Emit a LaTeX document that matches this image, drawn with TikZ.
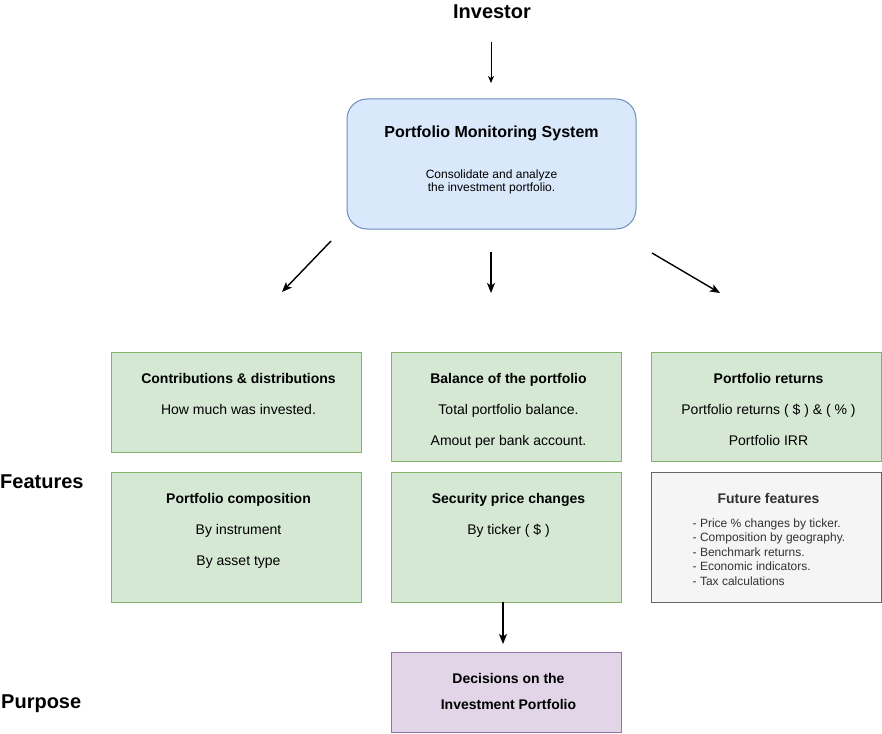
\documentclass[tikz,border=0pt]{standalone}
\usepackage{fontspec}
\setmainfont{Liberation Sans}
\usetikzlibrary{arrows.meta,positioning}
\definecolor{pmsblue}{HTML}{DAE8FC}
\definecolor{pmsline}{HTML}{6C8EBF}
\definecolor{featgreen}{HTML}{D5E8D4}
\definecolor{featline}{HTML}{82B366}
\definecolor{futgrey}{HTML}{F5F5F5}
\definecolor{futline}{HTML}{666666}
\definecolor{futtext}{HTML}{333333}
\definecolor{decpurple}{HTML}{E1D5E7}
\definecolor{decline}{HTML}{9673A6}

\begin{document}
\begin{tikzpicture}[x=1pt,y=-1pt,
  featbox/.style 2 args={draw=featline,fill=featgreen,line width=1pt,minimum width=#1pt,minimum height=#2pt,inner sep=0pt},
  boxtext/.style={inner sep=0pt,align=center,xshift=2.5pt,font=\fontsize{14}{31}\selectfont},
  sidelabel/.style={inner sep=0pt,anchor=base west,font=\fontsize{20}{24}\selectfont\bfseries},
  flowarrow/.style={-{Stealth[length=10pt,width=8pt,inset=2.5pt]},line width=1.4pt},
  thinarrow/.style={-{Stealth[length=7pt,width=6pt,inset=2pt]},line width=0.9pt}]
\useasboundingbox (0,0) rectangle (882,733);

% top
\node[inner sep=0pt,anchor=base,font=\fontsize{20}{24}\selectfont\bfseries] (investor) at (492,19) {Investor};
\coordinate (invA) at (491,42);
\coordinate (invB) at (491,83);
\draw[thinarrow] (invA)--(invB);

\node[draw=pmsline,fill=pmsblue,line width=1pt,rounded corners=20pt,minimum width=289pt,minimum height=130pt] (pms) at (491.5,164) {};
\node[inner sep=0pt,font=\fontsize{16}{19}\selectfont\bfseries,below=27pt of pms.north] (pmstitle) {Portfolio Monitoring System};
\node[inner sep=0pt,align=center,font=\fontsize{12}{13.5}\selectfont,below=71pt of pms.north] (pmstext) {Consolidate and analyze\\the investment portfolio.};

% three arrows
\coordinate (lA) at (331,241);
\coordinate (lB) at (282,292);
\coordinate (mA) at (491,252);
\coordinate (mB) at (491,293);
\coordinate (rA) at (652,253);
\coordinate (rB) at (720,293);
\draw[flowarrow] (lA)--(lB);
\draw[flowarrow] (mA)--(mB);
\draw[flowarrow] (rA)--(rB);

% features
\node[sidelabel] (features) at (0,488) {Features};

\node[featbox={250}{100}] (contrib) at (236,402) {};
\node[boxtext,below=21.5pt of contrib.north] (contribtxt) {\textbf{Contributions \& distributions}\\How much was invested.};

\node[featbox={230}{109}] (balance) at (506,406.5) {};
\node[boxtext,below=22pt of balance.north] (balancetxt) {\textbf{Balance of the portfolio}\\Total portfolio balance.\\Amout per bank account.};

\node[featbox={230}{109}] (returns) at (766,406.5) {};
\node[boxtext,below=22pt of returns.north] (returnstxt) {\textbf{Portfolio returns}\\Portfolio returns ( \$ ) \& ( \% )\\Portfolio IRR};

\node[featbox={250}{130}] (compos) at (236,537) {};
\node[boxtext,below=22pt of compos.north] (compostxt) {\textbf{Portfolio composition}\\By instrument\\By asset type};

\node[featbox={230}{130}] (price) at (506,537) {};
\node[boxtext,below=22pt of price.north] (pricetxt) {\textbf{Security price changes}\\By ticker ( \$ )};

\node[draw=futline,fill=futgrey,line width=1pt,minimum width=230pt,minimum height=130pt] (future) at (766,537) {};
\node[boxtext,text=futtext,below=22pt of future.north] (futuretitle) {\textbf{Future features}};
\node[inner sep=0pt,align=left,text=futtext,font=\fontsize{12}{14.5}\selectfont,below right=47pt and 42pt of future.north west] (futurelist) {- Price \% changes by ticker.\\- Composition by geography.\\- Benchmark returns.\\- Economic indicators.\\- Tax calculations};

% purpose
\coordinate (dA) at (503,602);
\coordinate (dB) at (503,644);
\draw[flowarrow] (dA)--(dB);

\node[sidelabel] (purpose) at (1,708) {Purpose};

\node[draw=decline,fill=decpurple,line width=1pt,minimum width=230pt,minimum height=80pt] (decisions) at (506,692) {};
\node[boxtext,font=\fontsize{14}{26}\selectfont\bfseries,below=22pt of decisions.north] (decisionstxt) {Decisions on the\\Investment Portfolio};
\end{tikzpicture}
\end{document}
